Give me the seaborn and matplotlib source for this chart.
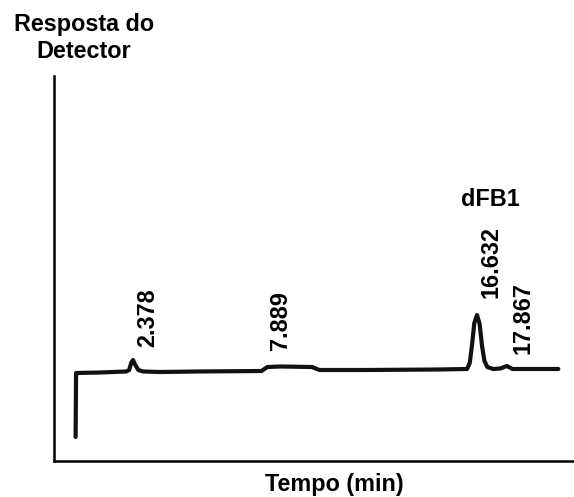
import matplotlib
matplotlib.use("Agg")
import matplotlib.pyplot as plt
import seaborn as sns
import pandas as pd

# Chromatogram trace (time in min, detector response in arbitrary units)
tempo = [0.0, 0.02, 1.0, 2.1, 2.22, 2.30, 2.378, 2.45, 2.6, 2.8, 3.5, 5.0, 7.7, 7.95,
         8.5, 9.8, 10.1, 12.0, 15.0, 16.22, 16.33, 16.42, 16.52, 16.632, 16.74, 16.84,
         16.94, 17.06, 17.3, 17.6, 17.867, 18.1, 19.0, 20.0]
resposta = [24, 88, 88.5, 89.5, 91, 98, 101, 97, 91, 89.5, 89, 89.5, 90, 94,
            94.5, 94, 91, 91, 91.5, 92, 98, 115, 138, 146, 137, 115,
            100, 94, 92, 92.5, 95, 92, 92, 92]

pico_tempos = ["2.378", "7.889", "16.632", "17.867"]
pico_pos_px = [(148, 318), (280, 321), (491, 262), (523, 318)]

sns.set_theme(style="white")
plt.rcParams["font.family"] = ["Liberation Sans", "DejaVu Sans"]

W, H = 574, 497
fig = plt.figure(figsize=(W / 100, H / 100), dpi=100)
ax = fig.add_axes([54 / W, 1 - 461 / H, 1 - 54 / W, (461 - 76) / H])

df = pd.DataFrame({"Tempo": tempo, "Resposta": resposta})
sns.lineplot(data=df, x="Tempo", y="Resposta", ax=ax, color="#111111",
             linewidth=3.0, sort=False, estimator=None)

ax.set_xlim(-0.895, 20.65)
ax.set_ylim(0, 385)
ax.set_xticks([])
ax.set_yticks([])
ax.set_xlabel("")
ax.set_ylabel("")
for s in ["top", "right"]:
    ax.spines[s].set_visible(False)
for s in ["left", "bottom"]:
    ax.spines[s].set_color("black")
    ax.spines[s].set_linewidth(1.8)

fs = 16.8
for lab, (px, py) in zip(pico_tempos, pico_pos_px):
    fig.text(px / W, 1 - py / H, lab, rotation=90, ha="center", va="center",
             fontsize=fs, fontweight="bold", color="black")

fig.text(490 / W, 1 - 199 / H, "dFB1", ha="center", va="center",
         fontsize=fs, fontweight="bold", color="black")
fig.text(84 / W, 1 - 25 / H, "Resposta do", ha="center", va="center",
         fontsize=fs, fontweight="bold", color="black")
fig.text(84 / W, 1 - 52 / H, "Detector", ha="center", va="center",
         fontsize=fs, fontweight="bold", color="black")
fig.text(334 / W, 1 - 485 / H, "Tempo (min)", ha="center", va="center",
         fontsize=fs, fontweight="bold", color="black")

fig.savefig("out.png", dpi=100)
